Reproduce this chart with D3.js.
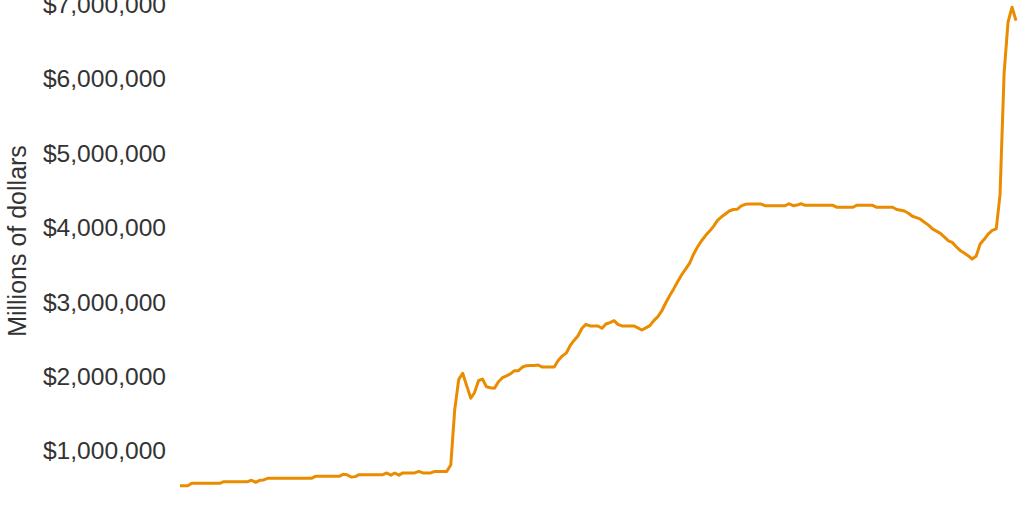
<!DOCTYPE html>
<html>
<head>
<meta charset="utf-8">
<script src="https://cdn.jsdelivr.net/npm/d3@7"></script>
<style>
  html, body { margin: 0; padding: 0; background: #fff; overflow: hidden; }
  svg { display: block; }
  .tick text, .axis-label { font-family: "Liberation Sans", Arial, sans-serif; fill: #333; }
</style>
</head>
<body>
<svg id="chart"></svg>
<script>
// monthly series, first month and values (millions of dollars)
const startMonth = '2003-01';
const assets = [
  508000, 508000, 508000, 540000, 540000, 540000, 540000, 540000, 540000, 540000,
  540000, 562000, 562000, 562000, 562000, 562000, 562000, 562000, 581000, 554000,
  580000, 585000, 607000, 607000, 607000, 607000, 607000, 607000, 607000, 607000,
  607000, 607000, 607000, 607000, 634000, 634000, 634000, 634000, 634000, 634000,
  634000, 661000, 655000, 625000, 630000, 656000, 656000, 656000, 656000, 656000,
  656000, 656000, 679000, 650000, 679000, 650000, 680000, 680000, 680000, 680000,
  700000, 680000, 680000, 680000, 700000, 700000, 700000, 700000, 786000, 1526000,
  1938000, 2019000, 1850000, 1683000, 1758000, 1919000, 1942000, 1839000, 1825000, 1817000,
  1906000, 1960000, 1985000, 2010000, 2054000, 2054000, 2100000, 2121000, 2125000, 2125000,
  2130000, 2103000, 2103000, 2103000, 2103000, 2190000, 2250000, 2290000, 2386000, 2460000,
  2520000, 2624000, 2677000, 2655000, 2655000, 2655000, 2624000, 2681000, 2700000, 2726000,
  2677000, 2655000, 2655000, 2655000, 2655000, 2630000, 2601000, 2630000, 2659000, 2726000,
  2780000, 2860000, 2960000, 3060000, 3150000, 3250000, 3340000, 3420000, 3500000, 3620000,
  3720000, 3800000, 3870000, 3930000, 3990000, 4070000, 4120000, 4160000, 4200000, 4220000,
  4225000, 4270000, 4290000, 4294000, 4294000, 4294000, 4294000, 4272000, 4272000, 4272000,
  4272000, 4272000, 4272000, 4298000, 4272000, 4280000, 4298000, 4277000, 4277000, 4277000,
  4277000, 4277000, 4277000, 4277000, 4277000, 4250000, 4250000, 4250000, 4250000, 4250000,
  4277000, 4277000, 4277000, 4277000, 4277000, 4250000, 4250000, 4250000, 4250000, 4250000,
  4220000, 4210000, 4200000, 4170000, 4130000, 4110000, 4090000, 4050000, 4010000, 3960000,
  3930000, 3900000, 3850000, 3800000, 3780000, 3720000, 3670000, 3635000, 3600000, 3555000,
  3595000, 3757000, 3820000, 3890000, 3940000, 3960000, 4420000, 6050000, 6740000, 6940000,
  6760000
];
const yTicks = [1000000, 2000000, 3000000, 4000000, 5000000, 6000000, 7000000];
const yTitle = 'Millions of dollars';

class LineChart {
  constructor(_config, data) {
    this.config = {
      parentElement: _config.parentElement,
      containerWidth: _config.containerWidth || 1024,
      containerHeight: _config.containerHeight || 512,
      margin: _config.margin || { top: 2.7, right: 8, bottom: 0, left: 180 },
      plotHeight: _config.plotHeight || 520.8
    };
    this.data = data;
    this.initVis();
  }

  initVis() {
    let vis = this;

    vis.width = vis.config.containerWidth - vis.config.margin.left - vis.config.margin.right;
    // plot area runs below the visible window, the x axis is cut off
    vis.height = vis.config.plotHeight;

    vis.svg = d3.select(vis.config.parentElement)
        .attr('width', vis.config.containerWidth)
        .attr('height', vis.config.containerHeight);

    vis.chart = vis.svg.append('g')
        .attr('transform', `translate(${vis.config.margin.left},${vis.config.margin.top})`);

    vis.xScale = d3.scaleTime()
        .domain(d3.extent(vis.data, d => d.date))
        .range([0, vis.width]);

    vis.yScale = d3.scaleLinear()
        .domain([0, 7000000])
        .range([vis.height, 0]);

    vis.yAxis = d3.axisLeft(vis.yScale)
        .tickValues(yTicks)
        .tickSize(0)
        .tickPadding(14)
        .tickFormat(d => '$' + d3.format(',')(d));

    vis.yAxisG = vis.chart.append('g').call(vis.yAxis);
    vis.yAxisG.select('.domain').remove();
    vis.yAxisG.selectAll('.tick text')
        .attr('dy', '0.4em')
        .style('font-size', '24.6px');

    vis.chart.append('text')
        .attr('class', 'axis-label')
        .attr('transform', 'rotate(-90)')
        .attr('x', -(241 - vis.config.margin.top))
        .attr('y', 26 - vis.config.margin.left)
        .attr('text-anchor', 'middle')
        .style('font-size', '25px')
        .text(yTitle);

    vis.updateVis();
  }

  updateVis() {
    let vis = this;

    const line = d3.line()
        .x(d => vis.xScale(d.date))
        .y(d => vis.yScale(d.value));

    vis.chart.append('path')
        .datum(vis.data)
        .attr('fill', 'none')
        .attr('stroke', '#ea8c00')
        .attr('stroke-width', 3)
        .attr('stroke-linejoin', 'round')
        .attr('d', line);
  }
}

const start = d3.timeParse('%Y-%m')(startMonth);
const data = assets.map((v, i) => ({ date: d3.timeMonth.offset(start, i), value: v }));

new LineChart({ parentElement: '#chart' }, data);
</script>
</body>
</html>
